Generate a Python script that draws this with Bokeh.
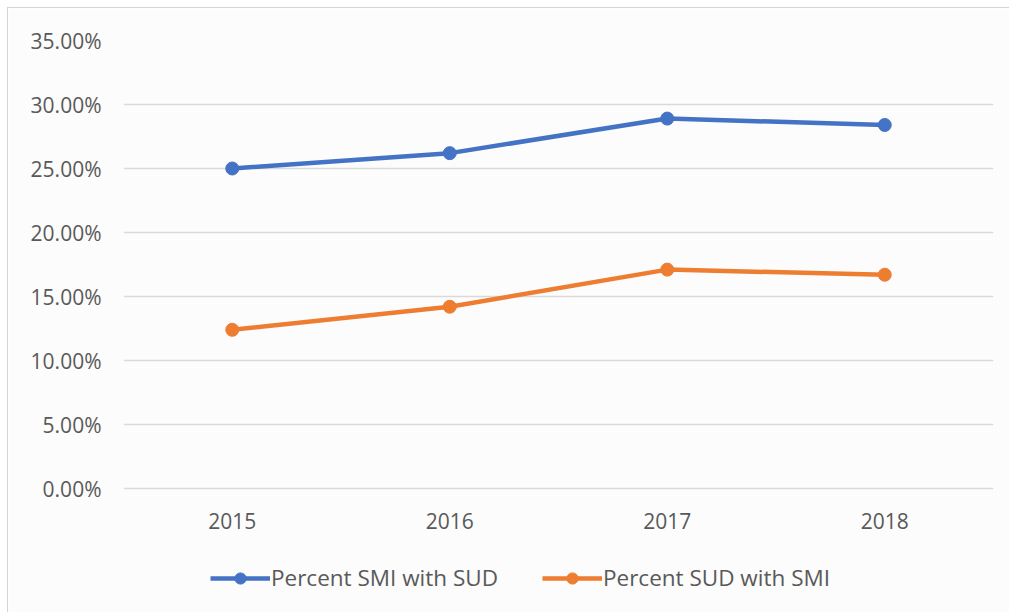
from bokeh.plotting import figure
from bokeh.models import FactorRange, Range1d, NumeralTickFormatter, Legend, LegendItem, FixedTicker, ColumnDataSource
from bokeh.core.properties import value
from bokeh.embed import file_html
from bokeh.resources import INLINE

years = ["2015", "2016", "2017", "2018"]
smi_with_sud = [0.250, 0.262, 0.289, 0.284]
sud_with_smi = [0.124, 0.142, 0.171, 0.167]
series_names = ["Percent SMI with SUD", "Percent SUD with SMI"]
y_ticks = [0.0, 0.05, 0.10, 0.15, 0.20, 0.25, 0.30, 0.35]

BLUE = "#4472C4"
ORANGE = "#ED7D31"
TEXT = "#595959"
GRID = "#D9D9D9"
BG = "#FBFCFB"
FONT = "Open Sans"

# y range extends below 0 so that the category labels and legend live inside the frame
p = figure(x_range=FactorRange(*years), y_range=Range1d(-0.0875, 0.35),
           width=1002, height=605, output_backend="svg", toolbar_location=None,
           min_border_left=115, min_border_right=17, min_border_top=32, min_border_bottom=13)
p.styles = {"margin-left": "7px", "margin-top": "7px",
            "border-left": "1px solid #D4D4D4", "border-top": "1px solid #D4D4D4"}
p.background_fill_color = BG
p.border_fill_color = BG
p.outline_line_color = None

p.xaxis.visible = False
p.xgrid.grid_line_color = None
p.ygrid.grid_line_color = GRID
p.ygrid.grid_line_width = 1.5
p.yaxis.ticker = FixedTicker(ticks=y_ticks)
p.yaxis.formatter = NumeralTickFormatter(format="0.00%")
p.yaxis.axis_line_color = None
p.yaxis.major_tick_line_color = None
p.yaxis.minor_tick_line_color = None
p.yaxis.major_tick_out = 0
p.yaxis.major_tick_in = 0
p.yaxis.major_label_text_font = FONT
p.yaxis.major_label_text_font_size = "21px"
p.yaxis.major_label_text_color = TEXT
p.yaxis.major_label_standoff = 22

# category labels
lab_src = ColumnDataSource(dict(x=years, y=[-0.025] * len(years), t=years))
p.text(x="x", y="y", text="t", source=lab_src, text_font=value(FONT), text_font_size="21px",
       text_color=TEXT, text_align="center", text_baseline="middle")

items = []
for vals, color, name in [(smi_with_sud, BLUE, series_names[0]), (sud_with_smi, ORANGE, series_names[1])]:
    l = p.line(years, vals, line_color=color, line_width=4.5)
    c = p.scatter(years, vals, size=13, fill_color=color, line_color=color)
    items.append(LegendItem(label=name, renderers=[l, c]))

legend = Legend(items=items, orientation="horizontal", location=(87, 7),
                label_text_font=FONT, label_text_font_size="22.5px", label_text_color=TEXT,
                glyph_width=60, glyph_height=28, spacing=44, label_standoff=1,
                border_line_color=None, background_fill_alpha=0,
                padding=0, margin=0)
p.add_layout(legend, "center")

open("out.html", "w").write(file_html(p, INLINE))
